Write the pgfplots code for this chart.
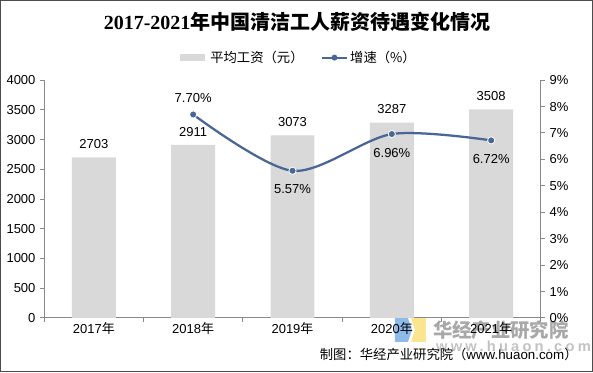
\documentclass[border=0pt]{standalone}
\usepackage{fontspec}
\setmainfont{Liberation Sans}
\newfontfamily\cjk{Noto Sans CJK SC}
\newfontfamily\serifb{Liberation Serif}
\usepackage{pgfplots}
\pgfplotsset{compat=1.18}
\definecolor{barg}{HTML}{D9D9D9}
\definecolor{lineb}{HTML}{4A6697}
\definecolor{axg}{HTML}{898989}
\definecolor{wmg}{HTML}{A8A8A8}
\definecolor{logob}{HTML}{8CBBEA}
\definecolor{logoy}{HTML}{FBE58F}
\newcommand{\tf}{\fontsize{9.75}{11}\selectfont}
\begin{document}
\begin{tikzpicture}[x=0.75pt,y=0.75pt]
\path (0,0) rectangle (593,372);
% watermark
\fill[logob] (395,54) -- (408,54) -- (412,42) -- (408,30) -- (395,30) -- cycle;
\fill[logoy] (411,54) -- (426,54) -- (426,30) -- (411,30) -- (415,42) -- cycle;
\node[font=\cjk\bfseries\fontsize{14.5}{16}\selectfont, text=wmg, anchor=west, inner sep=0] at (433,42) {华经产业研究院};
\node[font=\bfseries\fontsize{11}{12}\selectfont, text=wmg!70, anchor=west, inner sep=0] at (436,26) {\addfontfeatures{LetterSpace=22}www.huaon.com};
% title
\node[font=\fontsize{15}{17}\selectfont\bfseries] at (297,350) {{\serifb 2017-2021}{\cjk 年中国清洁工人薪资待遇变化情况}};
% legend
\fill[barg] (180,311) rectangle (205,318);
\node[font=\cjk\fontsize{10}{12}\selectfont, anchor=west, inner sep=0] at (210,314.5) {平均工资（元）};
\draw[lineb, line width=1.7pt] (322,314.5) -- (347,314.5);
\fill[lineb] (334.5,314.5) circle (3);
\node[font=\cjk\fontsize{10}{12}\selectfont, anchor=west, inner sep=0] at (350,314.5) {增速（\%）};
% source
\node[font=\fontsize{10}{12}\selectfont, anchor=east, inner sep=0] at (578,18) {{\cjk 制图：华经产业研究院（}www.huaon.com{\cjk ）}};
% bars
\begin{axis}[
  at={(33pt,40.5pt)}, anchor=south west, scale only axis,
  width=372.75pt, height=178.5pt,
  xmin=-0.5, xmax=4.5, ymin=0, ymax=4000,
  axis x line*=bottom, axis y line*=left,
  axis line style={-, axg, line width=0.75pt},
  tick align=outside, major tick length=3pt,
  tick style={axg, line width=0.75pt},
  xtick={-0.5,0.5,1.5,2.5,3.5,4.5},
  xticklabels={,,,,,},
  extra x ticks={0,1,2,3,4},
  extra x tick labels={2017{\cjk 年},2018{\cjk 年},2019{\cjk 年},2020{\cjk 年},2021{\cjk 年}},
  extra x tick style={major tick length=0pt},
  ytick={0,500,...,4000},
  ticklabel style={font=\tf, black},
  /pgf/number format/assume math mode=true,
  /pgf/number format/1000 sep={},
  ybar, bar width=33pt,
  nodes near coords,
  every node near coord/.append style={font=\tf, black, yshift=3pt,
    /pgf/number format/assume math mode=true, /pgf/number format/1000 sep={}},
  clip=false,
]
\addplot[fill=barg, draw=none] coordinates {(0,2703) (1,2911) (2,3073) (3,3287) (4,3508)};
\end{axis}
% line
\begin{axis}[
  at={(33pt,40.5pt)}, anchor=south west, scale only axis,
  width=372.75pt, height=178.5pt,
  xmin=-0.5, xmax=4.5, ymin=0, ymax=9,
  axis x line=none, axis y line*=right,
  axis line style={-, axg, line width=0.75pt},
  tick align=outside, major tick length=3pt,
  tick style={axg, line width=0.75pt},
  ytick={0,1,...,9},
  yticklabel={\pgfmathprintnumber{\tick}\%},
  ticklabel style={font=\tf, black},
  /pgf/number format/assume math mode=true,
  clip=false,
]
\addplot[lineb, line width=1.7pt, smooth, tension=0.5, mark=*, mark size=2.7pt,
  mark options={fill=lineb, draw=white, line width=0.6pt}]
  coordinates {(1,7.70) (2,5.57) (3,6.96) (4,6.72)};
\addplot[draw=none, nodes near coords, point meta=explicit symbolic,
  nodes near coords style={font=\tf, black, anchor=south, yshift=5pt}]
  coordinates {(1,7.70) [7.70\%]};
\addplot[draw=none, nodes near coords, point meta=explicit symbolic,
  nodes near coords style={font=\tf, black, anchor=north, yshift=-7pt}]
  coordinates {(2,5.57) [5.57\%] (3,6.96) [6.96\%] (4,6.72) [6.72\%]};
\end{axis}
\draw[black!70, line width=1pt] (0.5,0.5) rectangle (592.5,371.5);
\end{tikzpicture}
\end{document}
